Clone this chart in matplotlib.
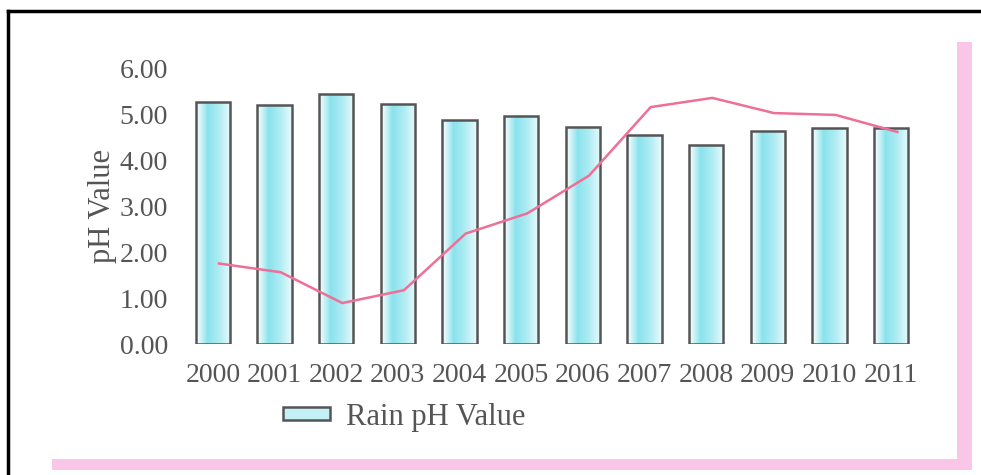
import matplotlib
matplotlib.use("Agg")
import matplotlib.pyplot as plt
import numpy as np
from matplotlib.colors import LinearSegmentedColormap
from matplotlib.patches import Rectangle
from matplotlib.lines import Line2D

years = ["2000", "2001", "2002", "2003", "2004", "2005", "2006", "2007", "2008", "2009", "2010", "2011"]
rain_ph = [5.26, 5.20, 5.43, 5.22, 4.88, 4.95, 4.71, 4.54, 4.32, 4.63, 4.70, 4.70]
line_values = [1.75, 1.56, 0.89, 1.17, 2.40, 2.84, 3.66, 5.15, 5.35, 5.02, 4.98, 4.61]
y_ticks = [0, 1, 2, 3, 4, 5, 6]

W, H = 981, 475
fig = plt.figure(figsize=(W / 100, H / 100), dpi=100)
fig.patch.set_facecolor("white")
plt.rcParams["font.family"] = ["Liberation Serif", "DejaVu Serif"]
TXT = "#555555"

ax = fig.add_axes([182 / W, 1 - 344 / H, (922 - 182) / W, (344 - 68) / H])
ax.set_facecolor("none")
x = np.arange(len(years))
bars = ax.bar(x, rain_ph, width=0.56, color="none", edgecolor="#555555", linewidth=1.8, zorder=3)

cmap = LinearSegmentedColormap.from_list("cy", ["#ffffff", "#8ae3ed", "#b0ecf3", "#e8fbfc"])
grad = np.linspace(0, 1, 64).reshape(1, -1)
grad = np.concatenate([np.zeros((1, 3)), grad[:, 3:]], axis=1)
for b in bars:
    im = ax.imshow(grad, cmap=cmap, aspect="auto", interpolation="bilinear",
                   extent=[b.get_x(), b.get_x() + b.get_width(), 0, b.get_height()], zorder=2)
    im.set_clip_path(b)

ax.plot(x + 0.1, line_values, color="#ef6f96", linewidth=1.8, zorder=4)

ax.set_xlim(-0.5, len(years) - 0.5)
ax.set_ylim(0, 6)
ax.set_yticks(y_ticks)
ax.set_yticklabels([f"{v:.2f}" for v in y_ticks], fontsize=20, color=TXT)
ax.set_xticks(x)
ax.set_xticklabels(years, fontsize=20, color=TXT)
ax.tick_params(axis="x", length=0, pad=14)
ax.tick_params(axis="y", length=0, pad=10)
for s in ax.spines.values():
    s.set_visible(False)
ax.set_ylabel("pH Value", fontsize=22, color=TXT, labelpad=2)

handle = Rectangle((0, 0), 1, 1, facecolor="#c4f1f6", edgecolor="#555555", linewidth=1.8)
leg = fig.legend([handle], ["Rain pH Value"], loc="center left",
                 bbox_to_anchor=(283 / W, 1 - 417 / H), frameon=False,
                 fontsize=22, handlelength=1.55, handleheight=0.28, handletextpad=0.5,
                 borderpad=0, borderaxespad=0, labelcolor=TXT)

# scan frame decorations
fig.add_artist(Line2D([8 / W, 1], [1 - 11 / H, 1 - 11 / H], color="black", linewidth=2.5, transform=fig.transFigure))
fig.add_artist(Line2D([8 / W, 8 / W], [0, 1 - 11 / H], color="black", linewidth=2.5, transform=fig.transFigure))
fig.add_artist(Rectangle((957 / W, 0.01), 15 / W, (470 - 42) / H, transform=fig.transFigure,
                         facecolor="#f9c6e8", edgecolor="none"))
fig.add_artist(Rectangle((52 / W, 1 - 470 / H), (972 - 52) / W, 11 / H, transform=fig.transFigure,
                         facecolor="#f9c6e8", edgecolor="none"))

fig.savefig("out.png", dpi=100)
